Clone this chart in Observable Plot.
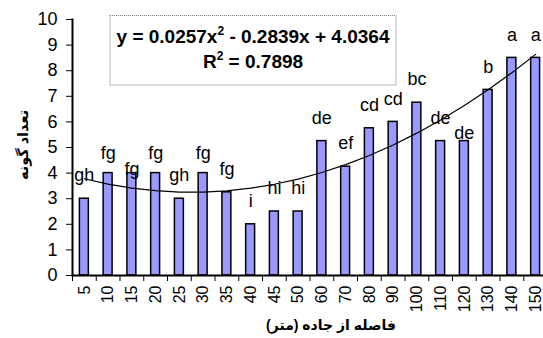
<!DOCTYPE html>
<html><head><meta charset="utf-8">
<script src="https://cdn.jsdelivr.net/npm/d3@7"></script>
<script src="https://cdn.jsdelivr.net/npm/@observablehq/plot@0.6"></script>
<style>
body{margin:0;background:#fff}
#chart{width:543px;height:338px}
</style>
</head><body><div id="chart"></div>
<script>
const categories = ["5","10","15","20","25","30","35","40","45","50","60","70","80","90","100","110","120","130","140","150"];
const values = [3,4,4,4,3,4,3.25,2,2.5,2.5,5.25,4.25,5.75,6,6.75,5.25,5.25,7.25,8.5,8.5];
const letters = ["gh","fg","fg","fg","gh","fg","fg","i","hi","hi","de","ef","cd","cd","bc","de","de","b","a","a"];
const trendCoef = [0.0257, -0.2839, 4.0364];
const yTicks = [0,1,2,3,4,5,6,7,8,9,10];
const yTitle = "تعداد گونه";
const xTitle = "فاصله از جاده (متر)";
const eqLine1 = ["y = 0.0257x", "2", " - 0.2839x + 4.0364"];
const eqLine2 = ["R", "2", " = 0.7898"];

const data = categories.map((c, i) => ({
  cat: c, value: values[i], letter: letters[i],
  trend: trendCoef[0] * (i + 1) ** 2 + trendCoef[1] * (i + 1) + trendCoef[2]
}));

const font = "'Liberation Sans', Arial, 'DejaVu Sans', sans-serif";
const labelDy = {"10": -20, "20": -20, "30": -20, "15": -4, "120": -8};
const groups = d3.groups(data, d => labelDy[d.cat] ?? -23);

const chart = Plot.plot({
  width: 543, height: 338,
  marginLeft: 72, marginRight: 0, marginTop: 19, marginBottom: 63,
  style: {fontFamily: font, background: "white", color: "#000"},
  x: {type: "band", domain: categories, range: [72, 547], padding: 0, round: false, label: null},
  y: {domain: [0, 10], label: null},
  marks: [
    Plot.barY(data, {x: "cat", y: "value", fill: "#9999FF", stroke: "#000", strokeWidth: 1.5, insetLeft: 7.4, insetRight: 7.4}),
    Plot.line(data, {x: "cat", y: "trend", stroke: "#000", strokeWidth: 1.2}),
    ...groups.map(([dy, g]) => Plot.text(g, {x: "cat", y: "value", text: "letter", dy, fontSize: 18, fill: "#000", lineAnchor: "middle"})),
    Plot.axisY({ticks: yTicks, tickSize: 6, tickPadding: 9, fontSize: 18, label: null, tickFormat: d => d}),
    Plot.axisX({tickSize: 0, tickRotate: -90, tickPadding: 10, fontSize: 16, label: null}),
    Plot.axisX({tickSize: 6, dx: -11.875, tickFormat: () => "", label: null}),
    Plot.frame({anchor: "left", strokeWidth: 2}),
    Plot.frame({anchor: "bottom", strokeWidth: 2})
  ]
});
document.getElementById("chart").append(chart);

const svg = d3.select(chart);
// equation box
const box = svg.append("g");
box.append("rect").attr("x", 110).attr("y", 15.5).attr("width", 286).attr("height", 69.5)
  .attr("fill", "white").attr("stroke", "#777").attr("stroke-width", 1).attr("stroke-dasharray", "1,1");
function eqText(parts, y) {
  const t = box.append("text").attr("x", 253).attr("y", y).attr("text-anchor", "middle")
    .attr("font-family", font).attr("font-weight", "bold").attr("font-size", 19).attr("fill", "#000");
  t.append("tspan").text(parts[0]);
  t.append("tspan").attr("font-size", 12).attr("dy", -8).text(parts[1]);
  t.append("tspan").attr("dy", 8).text(parts[2]);
}
eqText(eqLine1, 43);
eqText(eqLine2, 68);

svg.append("text").attr("transform", "translate(24,145) rotate(-90)")
  .attr("text-anchor", "middle").attr("dominant-baseline", "middle")
  .attr("font-family", font).attr("font-weight", "bold").attr("font-size", 14.5)
  .style("direction", "rtl").attr("fill", "#000").text(yTitle);
svg.append("text").attr("x", 331).attr("y", 326)
  .attr("text-anchor", "middle").attr("dominant-baseline", "middle")
  .attr("font-family", font).attr("font-weight", "bold").attr("font-size", 14)
  .style("direction", "rtl").attr("fill", "#000").text(xTitle);
</script>
</body></html>
